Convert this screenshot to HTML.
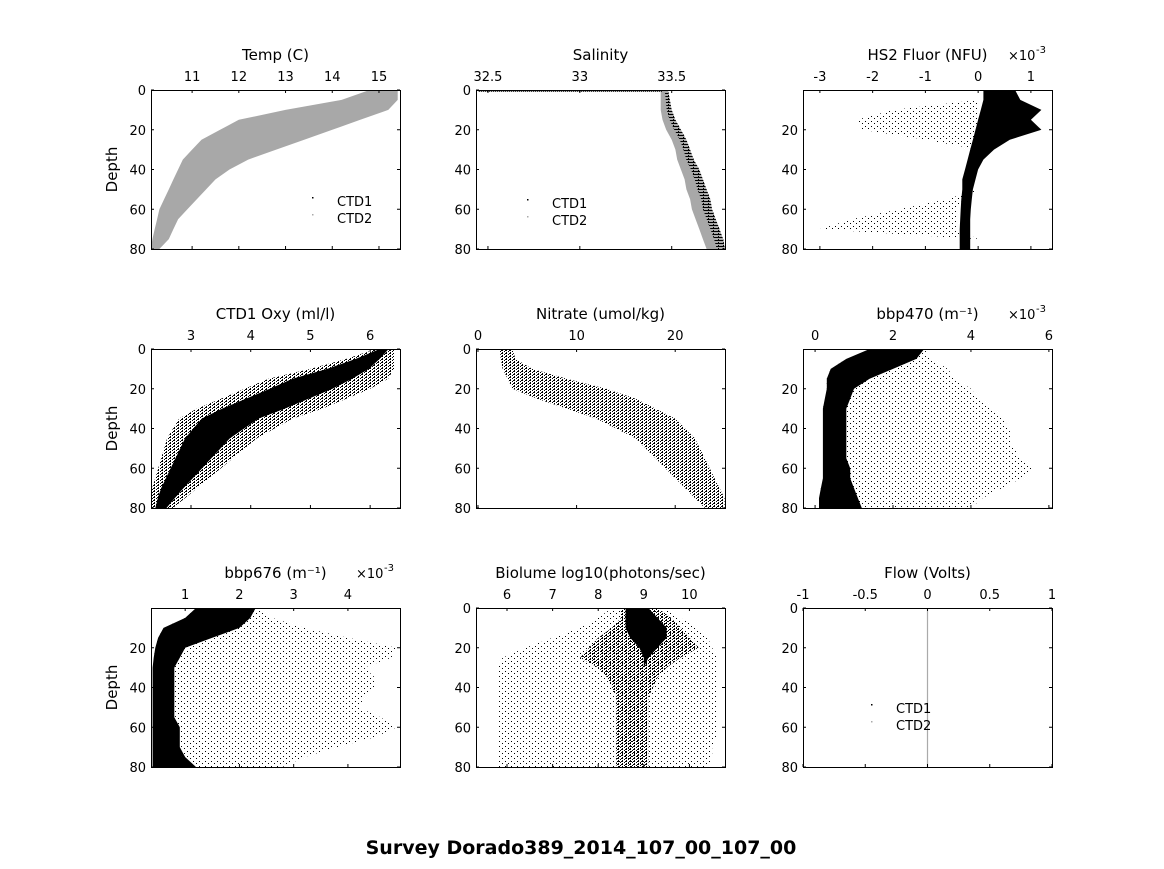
<!DOCTYPE html>
<html><head><meta charset="utf-8">
<style>
html,body{margin:0;padding:0;background:#fff;}
svg text{font-family:"DejaVu Sans","Liberation Sans",sans-serif;fill:#000;}
</style></head>
<body>
<svg id="fig" width="1164" height="864" viewBox="0 0 1164 864" xmlns="http://www.w3.org/2000/svg">
<defs>
<pattern id="sparse" width="6" height="5" patternUnits="userSpaceOnUse">
<rect x="1" y="1" width="1" height="1" fill="#000"/><rect x="4" y="3" width="1" height="1" fill="#000"/>
</pattern>
<pattern id="mid" width="4" height="3" patternUnits="userSpaceOnUse">
<rect x="0" y="0" width="1" height="1" fill="#000"/><rect x="2" y="1" width="1" height="1" fill="#000"/><rect x="1" y="2" width="2" height="1" fill="#000"/>
</pattern>
<pattern id="lines" width="5" height="3" patternUnits="userSpaceOnUse">
<rect x="0" y="0" width="5" height="1" fill="#000"/><rect x="3" y="2" width="1" height="1" fill="#000"/>
</pattern>
</defs>
<text x="581" y="854" font-size="19" font-weight="bold" text-anchor="middle">Survey Dorado389_2014_107_00_107_00</text>
</svg>
<script>
// shared depth grid (m)
const depths = [0,5,10,15,20,25,30,35,40,45,50,55,60,65,70,75,80];
// Temp
const tempLo = [14.8,14.2,13.0,12.0,11.6,11.2,11.0,10.8,10.7,10.6,10.5,10.4,10.3,10.25,10.2,10.15,10.12];
const tempHi = [15.4,15.4,15.2,14.6,14.0,13.4,12.8,12.2,11.8,11.5,11.3,11.1,10.9,10.7,10.6,10.5,10.3];
// Salinity
const salLo = [33.44,33.44,33.44,33.45,33.47,33.50,33.52,33.53,33.55,33.57,33.58,33.60,33.61,33.63,33.65,33.67,33.69];
const salHi = [33.48,33.49,33.50,33.52,33.55,33.58,33.60,33.62,33.65,33.67,33.69,33.71,33.72,33.74,33.76,33.78,33.79];
// HS2 Fluor (x1e-3)
const fluLo = [0.1,0.1,0.05,0.0,-0.05,-0.1,-0.15,-0.2,-0.25,-0.3,-0.3,-0.32,-0.33,-0.34,-0.35,-0.35,-0.35];
const fluHi = [0.7,0.8,1.2,1.0,1.2,0.6,0.3,0.1,0.0,-0.05,-0.1,-0.12,-0.14,-0.15,-0.15,-0.15,-0.15];
const fluScatLo = [0,0,-1.6,-2.3,-2.2,-1.0,0,0,0,0,0,-0.6,-1.5,-2.4,-3.0,0,0];
const fluScatHi = [0,0,0,0,0,0,0,0,0,0,0,-0.3,-0.4,-0.4,-0.4,0,0];
// Oxygen
const oxyLo = [6.1,5.6,5.0,4.3,3.9,3.5,3.1,2.8,2.7,2.6,2.55,2.5,2.45,2.4,2.35,2.33,2.33];
const oxyHi = [6.4,6.4,6.4,6.3,6.0,5.6,5.2,4.7,4.4,4.1,3.9,3.7,3.5,3.3,3.1,2.9,2.7];
// Nitrate
const nitLo = [2.2,2.3,2.5,3,3.5,6,9,12,14,16,17,18,19,20,21,22,23];
const nitHi = [3.5,3.8,5.5,9,13,16,18,20,21,22,22.5,23,23.5,24,24.5,25,25];
// bbp470 (x1e-3)
const b470Lo = [1.4,0.8,0.4,0.3,0.3,0.25,0.2,0.2,0.2,0.2,0.2,0.2,0.2,0.2,0.15,0.1,0.1];
const b470Hi = [2.8,2.6,2.0,1.4,1.0,0.9,0.8,0.8,0.8,0.8,0.8,0.8,0.9,0.9,1.0,1.1,1.2];
const b470CloudHi = [2.8,3.0,3.4,3.6,4.0,4.2,4.5,4.8,5.0,5.0,5.1,5.3,5.6,5.3,4.8,4.3,4.0];
// bbp676 (x1e-3)
const b676Lo = [1.2,1.0,0.6,0.5,0.45,0.42,0.4,0.4,0.4,0.4,0.4,0.4,0.4,0.4,0.4,0.4,0.4];
const b676Hi = [2.3,2.2,2.0,1.5,1.0,0.9,0.8,0.8,0.8,0.8,0.8,0.8,0.9,0.9,0.9,1.0,1.2];
const b676CloudHi = [2.3,2.6,3.2,4.0,4.9,4.8,4.3,4.5,4.5,4.3,4.2,4.6,4.9,4.5,3.8,3.2,2.8];
// Biolume log10
const bioLo = [8.5,8.5,8.3,8.0,7.8,7.6,8.0,8.2,8.3,8.4,8.4,8.4,8.4,8.4,8.4,8.4,8.4];
const bioHi = [9.3,9.6,9.8,10.0,10.2,9.8,9.5,9.3,9.2,9.1,9.1,9.1,9.1,9.1,9.1,9.1,9.1];
const bioCoreLo = [8.6,8.6,8.6,8.7,8.9,9.0,9.0,9.0,9.0,9.0,9.0,9.0,9.0,9.0,9.0,9.0,9.0];
const bioCoreHi = [9.1,9.3,9.5,9.5,9.3,9.1,9.0,9.0,9.0,9.0,9.0,9.0,9.0,9.0,9.0,9.0,9.0];
const bioCloudLo = [8.3,8.0,7.6,7.0,6.4,5.9,5.8,5.8,5.8,5.8,5.8,5.8,5.8,5.8,5.8,5.8,5.8];
const bioCloudHi = [9.5,9.8,10.2,10.4,10.5,10.6,10.6,10.6,10.6,10.6,10.6,10.6,10.6,10.6,10.5,10.5,10.4];
// Flow
const flowLo = depths.map(()=>0);

const NS='http://www.w3.org/2000/svg';
const svg=document.getElementById('fig');
function mk(tag,attrs,parent){const e=document.createElementNS(NS,tag);for(const k in attrs)e.setAttribute(k,attrs[k]);(parent||svg).appendChild(e);return e;}

const cols=[151,476,803], rows=[90,349,608], W=249, H=159;
const panels=[
 {name:'temp',title:'Temp (C)',c:0,r:0,xmin:10.12,xmax:15.45,xt:[11,12,13,14,15],yt:[0,20,40,60,80],
  layers:[{lo:tempLo,hi:tempHi,fill:'#a8a8a8'}],legend:[312,201]},
 {name:'salinity',title:'Salinity',c:1,r:0,xmin:32.435,xmax:33.79,xt:[32.5,33,33.5],yt:[0,20,40,60,80],
  layers:[{lo:salLo,hi:salHi,fill:'#a8a8a8'},{lo:salLo.map((v,i)=>v+(salHi[i]-v)*0.55),hi:salHi,fill:'url(#lines)'}],surface:[32.45,33.45],legend:[527,203]},
 {name:'hs2-fluor',title:'HS2 Fluor (NFU)',c:2,r:0,xmin:-3.32,xmax:1.40,xt:[-3,-2,-1,0,1],yt:[20,40,60,80],exp:true,
  layers:[{lo:fluScatLo,hi:fluScatHi,fill:'url(#sparse)'},{lo:fluLo,hi:fluHi,fill:'#000'}]},
 {name:'oxygen',title:'CTD1 Oxy (ml/l)',c:0,r:1,xmin:2.33,xmax:6.5,xt:[3,4,5,6],yt:[0,20,40,60,80],
  layers:[{lo:oxyLo,hi:oxyHi,fill:'url(#mid)'},{lo:oxyLo.map((v,i)=>v+(oxyHi[i]-v)*0.2),hi:oxyHi.map((v,i)=>v-(v-oxyLo[i])*0.3),fill:'#000'}]},
 {name:'nitrate',title:'Nitrate (umol/kg)',c:1,r:1,xmin:-0.2,xmax:25.05,xt:[0,10,20],yt:[0,20,40,60,80],
  layers:[{lo:nitLo,hi:nitHi,fill:'url(#mid)'}]},
 {name:'bbp470',title:'bbp470 (m⁻¹)',c:2,r:1,xmin:-0.31,xmax:6.08,xt:[0,2,4,6],yt:[20,40,60,80],exp:true,
  layers:[{lo:b470Lo,hi:b470CloudHi,fill:'url(#sparse)'},{lo:b470Lo,hi:b470Hi,fill:'#000'}]},
 {name:'bbp676',title:'bbp676 (m⁻¹)',c:0,r:2,xmin:0.37,xmax:4.96,xt:[1,2,3,4],yt:[20,40,60,80],exp:true,
  layers:[{lo:b676Lo,hi:b676CloudHi,fill:'url(#sparse)'},{lo:b676Lo,hi:b676Hi,fill:'#000'}]},
 {name:'biolume',title:'Biolume log10(photons/sec)',c:1,r:2,xmin:5.32,xmax:10.78,xt:[6,7,8,9,10],yt:[0,20,40,60,80],
  layers:[{lo:bioCloudLo,hi:bioCloudHi,fill:'url(#sparse)'},{lo:bioLo,hi:bioHi,fill:'url(#mid)'},{lo:bioCoreLo,hi:bioCoreHi,fill:'#000'}]},
 {name:'flow',title:'Flow (Volts)',c:2,r:2,xmin:-1,xmax:1,xt:[-1,-0.5,0,0.5,1],yt:[0,20,40,60,80],
  flowLine:flowLo,legend:[871,708]}
];

panels.forEach(p=>{
  const x0=cols[p.c], y0=rows[p.r];
  const xs=v=>x0+(v-p.xmin)/(p.xmax-p.xmin)*W;
  const ys=d=>y0+d/80*H;
  const g=mk('g',{});
  
  
  const clip=mk('clipPath',{id:'clip-'+p.name},g);
  mk('rect',{x:x0,y:y0,width:W,height:H},clip);
  const plot=mk('g',{'clip-path':'url(#clip-'+p.name+')'},g);
  
  
  (p.layers||[]).forEach((L,li)=>{
    let pts=[];
    depths.forEach((d,i)=>pts.push(xs(L.lo[i]).toFixed(1)+','+ys(d).toFixed(1)));
    for(let i=depths.length-1;i>=0;i--)pts.push(xs(L.hi[i]).toFixed(1)+','+ys(depths[i]).toFixed(1));
    const poly=mk('polygon',{points:pts.join(' '),fill:L.fill},plot);
    
    
  });
  if(p.surface){
    const l=mk('line',{x1:xs(p.surface[0]),x2:xs(p.surface[1]),y1:ys(0)+1,y2:ys(0)+1,stroke:'#000','stroke-width':2,'stroke-dasharray':'1 1'},plot);
    
    
  }
  if(p.flowLine){
    const pts=depths.map((d,i)=>xs(p.flowLine[i])+','+ys(d)).join(' ');
    const l=mk('polyline',{points:pts,fill:'none',stroke:'#aaa','stroke-width':1.2},plot);
    
    
  }
  const box=mk('rect',{x:x0+0.5,y:y0+0.5,width:W,height:H,fill:'none',stroke:'#000','stroke-width':1},g);
  
  
  p.xt.forEach(v=>{
    const x=xs(v);
    mk('line',{x1:x,x2:x,y1:y0,y2:y0+3,stroke:'#000'},g);
    mk('line',{x1:x,x2:x,y1:y0+H,y2:y0+H-3,stroke:'#000'},g);
    const t=mk('text',{x:x,y:y0-9,'font-size':13,'text-anchor':'middle'},g);
    t.textContent=String(v);
    
    
  });
  p.yt.forEach(d=>{
    const y=ys(d);
    mk('line',{x1:x0,x2:x0+3,y1:y,y2:y,stroke:'#000'},g);
    mk('line',{x1:x0+W,x2:x0+W-3,y1:y,y2:y,stroke:'#000'},g);
    const t=mk('text',{x:x0-5,y:y+5,'font-size':13,'text-anchor':'end'},g);
    t.textContent=String(d);
    
    
  });
  const tt=mk('text',{x:x0+W/2,y:y0-30,'font-size':15,'text-anchor':'middle'},g);
  tt.textContent=p.title;
  
  
  if(p.exp){
    const e=mk('text',{x:x0+W-44,y:y0-30,'font-size':13,'text-anchor':'start'},g);
    e.textContent='×10';
    
    
    const s=mk('text',{x:x0+W-16,y:y0-37,'font-size':10,'text-anchor':'start'},g);
    s.textContent='-3';
    
    
  }
  if(p.c===0){
    const yl=mk('text',{x:0,y:0,'font-size':15,'text-anchor':'middle',transform:'translate('+(x0-34)+','+(y0+H/2)+') rotate(-90)'},g);
    yl.textContent='Depth';
    
    
  }
  if(p.legend){
    const [lx,ly]=p.legend;
    const lg=mk('g',{},g);
    
    
    mk('rect',{x:lx,y:ly-4,width:1.5,height:1.5,fill:'#000'},lg);
    mk('rect',{x:lx,y:ly+13,width:1.5,height:1.5,fill:'#aaa'},lg);
    const a=mk('text',{x:lx+25,y:ly+5,'font-size':13},lg);a.textContent='CTD1';
    
    
    const b=mk('text',{x:lx+25,y:ly+22,'font-size':13},lg);b.textContent='CTD2';
    
    
  }
});
</script>
</body></html>
